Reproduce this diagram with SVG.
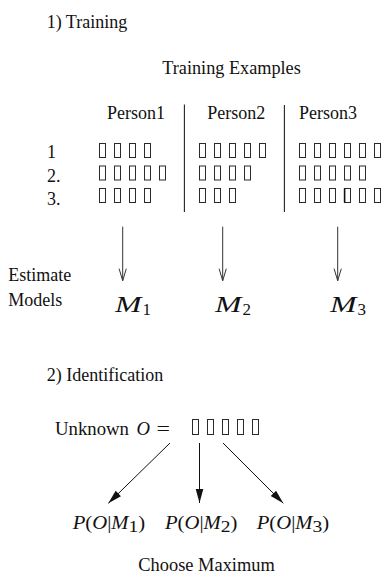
<svg xmlns="http://www.w3.org/2000/svg" width="386" height="574" viewBox="0 0 386 574" font-family="'Liberation Serif', 'DejaVu Serif', serif">
  <style>
    text { font-family: 'Liberation Serif', 'DejaVu Serif', serif; fill: #111; font-size: 18px; }
    .it { font-style: italic; }
    .math { font-size: 24px; font-style: italic; }
    .sub { font-size: 17px; }
    .sym { fill: none; stroke: #2a2a2a; stroke-width: 1; }
    .sep { stroke: #222; stroke-width: 1.1; }
    .open { stroke: #333; stroke-width: 1; fill: none; }
    .solid { stroke: #111; stroke-width: 1; fill: none; }
  </style>
  <defs>
    <!-- observation symbol (empty glyph box) -->
    <rect id="box" width="6" height="14" fill="none" stroke="#2a2a2a" stroke-width="1"/>
    <marker id="vhead" markerUnits="userSpaceOnUse" markerWidth="16" markerHeight="10" viewBox="-13 -5 14 10" refX="0" refY="0" orient="auto">
      <path d="M-12,-3.6 L0,0 L-12,3.6" fill="none" stroke="#333" stroke-width="1"/>
    </marker>
    <marker id="fhead" markerUnits="userSpaceOnUse" markerWidth="16" markerHeight="10" viewBox="-15 -5 16 10" refX="0" refY="0" orient="auto">
      <path d="M-14,-3.8 L0,0 L-14,3.8 Z" fill="#111" stroke="none"/>
    </marker>
  </defs>

  <!-- section 1 -->
  <g id="title-training"><text x="46.7" y="28">1) Training</text></g>
  <g id="title-examples"><text x="162.3" y="74" textLength="138.5" lengthAdjust="spacingAndGlyphs">Training Examples</text></g>

  <g id="person1-header"><text x="107" y="119">Person1</text></g>
  <g id="person2-header"><text x="207.3" y="119">Person2</text></g>
  <g id="person3-header"><text x="299" y="119">Person3</text></g>

  <g id="row-labels">
    <text x="47" y="158">1</text>
    <text x="47" y="181.5">2.</text>
    <text x="47" y="205">3.</text>
  </g>

  <g id="column-separators">
    <line class="sep" x1="184.4" y1="104.5" x2="184.4" y2="212"/>
    <line class="sep" x1="284.4" y1="105" x2="284.4" y2="212"/>
  </g>

  <!-- Person1 examples -->
  <g id="person1-examples">
    <use href="#box" x="99.5" y="143.5"/><use href="#box" x="114.5" y="143.5"/><use href="#box" x="129.5" y="143.5"/><use href="#box" x="144.5" y="143.5"/>
    <use href="#box" x="99.5" y="166"/><use href="#box" x="114.5" y="166"/><use href="#box" x="129.5" y="166"/><use href="#box" x="144.5" y="166"/><use href="#box" x="159.5" y="166"/>
    <use href="#box" x="99.5" y="188.5"/><use href="#box" x="114.5" y="188.5"/><use href="#box" x="129.5" y="188.5"/><use href="#box" x="144.5" y="188.5"/>
  </g>

  <!-- Person2 examples -->
  <g id="person2-examples">
    <use href="#box" x="199.5" y="143.5"/><use href="#box" x="214.5" y="143.5"/><use href="#box" x="229.5" y="143.5"/><use href="#box" x="244.5" y="143.5"/><use href="#box" x="259.5" y="143.5"/>
    <use href="#box" x="199.5" y="166"/><use href="#box" x="214.5" y="166"/><use href="#box" x="229.5" y="166"/><use href="#box" x="244.5" y="166"/>
    <use href="#box" x="199.5" y="188.5"/><use href="#box" x="214.5" y="188.5"/><use href="#box" x="229.5" y="188.5"/>
  </g>

  <!-- Person3 examples -->
  <g id="person3-examples">
    <use href="#box" x="299.5" y="143.5"/><use href="#box" x="314.5" y="143.5"/><use href="#box" x="329.5" y="143.5"/><use href="#box" x="344.5" y="143.5"/><use href="#box" x="359.5" y="143.5"/><use href="#box" x="374.5" y="143.5"/>
    <use href="#box" x="299.5" y="166"/><use href="#box" x="314.5" y="166"/><use href="#box" x="329.5" y="166"/><use href="#box" x="344.5" y="166"/><use href="#box" x="359.5" y="166"/>
    <use href="#box" x="299.5" y="188.5"/><use href="#box" x="314.5" y="188.5"/><use href="#box" x="329.5" y="188.5"/><use href="#box" x="344.5" y="188.5"/><use href="#box" x="359.5" y="188.5"/><use href="#box" x="374.5" y="188.5"/>
    <line x1="344.6" y1="188.5" x2="344.6" y2="202.5" stroke="#111" stroke-width="1.6"/>
  </g>

  <g id="estimate-label">
    <text x="8.3" y="280.5">Estimate</text>
    <text x="8.3" y="305.5">Models</text>
  </g>

  <g id="model-M1"><text class="math" x="115" y="311.5" textLength="26.5" lengthAdjust="spacingAndGlyphs">M</text><text class="sub" x="142.5" y="315">1</text></g>
  <g id="model-M2"><text class="math" x="215" y="311.5" textLength="26.5" lengthAdjust="spacingAndGlyphs">M</text><text class="sub" x="242.5" y="315">2</text></g>
  <g id="model-M3"><text class="math" x="330" y="311.5" textLength="26.5" lengthAdjust="spacingAndGlyphs">M</text><text class="sub" x="357.5" y="315">3</text></g>

  <!-- section 2 -->
  <g id="title-identification"><text x="46.7" y="381">2) Identification</text></g>

  <g id="unknown-observation">
    <text x="55" y="435" textLength="74" lengthAdjust="spacingAndGlyphs">Unknown</text>
    <text class="it" x="136.5" y="435" textLength="13.5" lengthAdjust="spacingAndGlyphs">O</text>
    <text x="156.5" y="435" textLength="13.5" lengthAdjust="spacingAndGlyphs">=</text>
    <g class="sym">
      <rect x="192.5" y="419.5" width="6" height="15"/>
      <rect x="207.5" y="419.5" width="6" height="15"/>
      <rect x="222.5" y="419.5" width="6" height="15"/>
      <rect x="237.5" y="419.5" width="6" height="15"/>
      <rect x="252.5" y="419.5" width="6" height="15"/>
    </g>
  </g>

  <g id="likelihood-1"><text x="72.7" y="528.5" textLength="72.5" lengthAdjust="spacingAndGlyphs"><tspan class="it">P</tspan>(<tspan class="it">O</tspan>|<tspan class="it">M</tspan><tspan class="sub" dy="3">1</tspan><tspan dy="-3">)</tspan></text></g>
  <g id="likelihood-2"><text x="165" y="528.5" textLength="72.5" lengthAdjust="spacingAndGlyphs"><tspan class="it">P</tspan>(<tspan class="it">O</tspan>|<tspan class="it">M</tspan><tspan class="sub" dy="3">2</tspan><tspan dy="-3">)</tspan></text></g>
  <g id="likelihood-3"><text x="256.7" y="528.5" textLength="72.5" lengthAdjust="spacingAndGlyphs"><tspan class="it">P</tspan>(<tspan class="it">O</tspan>|<tspan class="it">M</tspan><tspan class="sub" dy="3">3</tspan><tspan dy="-3">)</tspan></text></g>

  <g id="choose-maximum"><text x="138.3" y="571" textLength="136.5" lengthAdjust="spacingAndGlyphs">Choose Maximum</text></g>

  <!-- connectors -->
  <g id="connectors">
    <line class="open" x1="122.7" y1="226.7" x2="122.7" y2="280.7" marker-end="url(#vhead)"/>
    <line class="open" x1="222.7" y1="226.7" x2="222.7" y2="280.7" marker-end="url(#vhead)"/>
    <line class="open" x1="337.7" y1="226.7" x2="337.7" y2="280.7" marker-end="url(#vhead)"/>
    <line class="solid" x1="170" y1="443" x2="108.3" y2="503.3" marker-end="url(#fhead)"/>
    <line class="solid" x1="199.5" y1="443" x2="199.5" y2="503" marker-end="url(#fhead)"/>
    <line class="solid" x1="223" y1="443" x2="283.3" y2="503.3" marker-end="url(#fhead)"/>
  </g>
</svg>
